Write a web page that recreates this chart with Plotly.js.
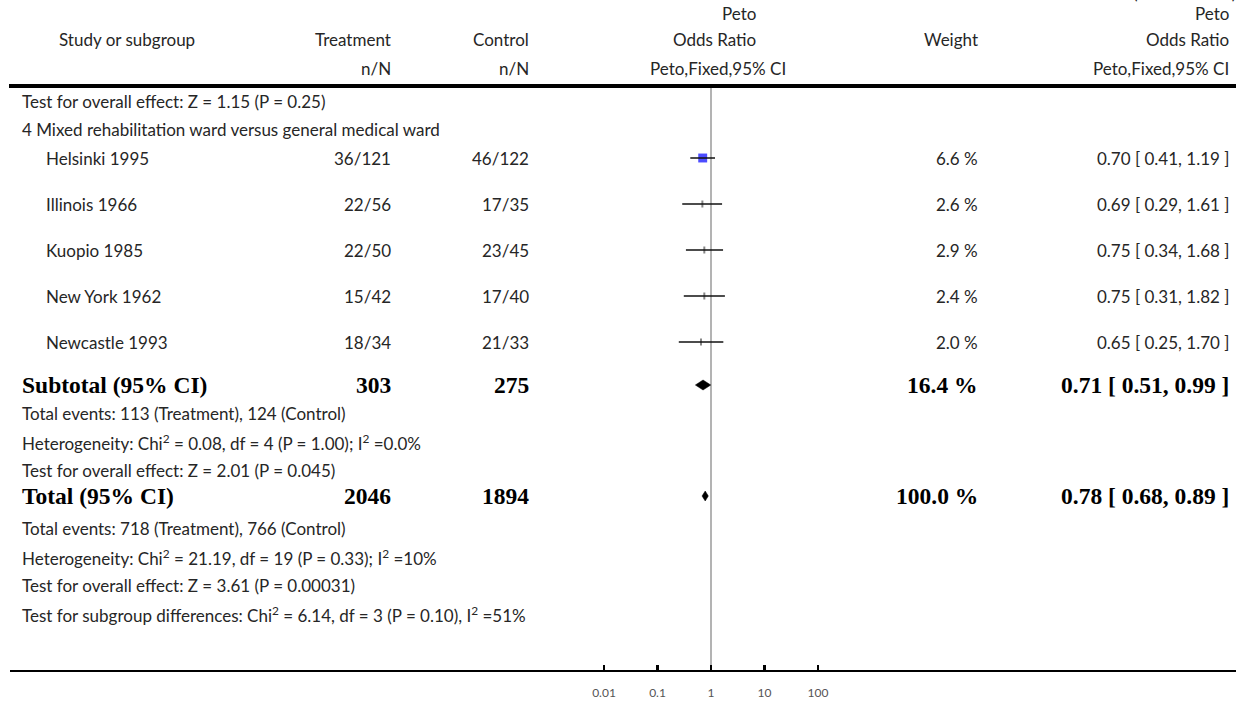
<!DOCTYPE html>
<html>
<head>
<meta charset="utf-8">
<script src="https://cdn.plot.ly/plotly-3.0.1.min.js"></script>
<style>html,body{margin:0;padding:0;background:#fff;}#chart{width:1236px;height:707px;}</style>
</head>
<body>
<div id="chart"></div>
<script>
// ---------------- DATA ----------------
const studies   = ['Helsinki 1995', 'Illinois 1966', 'Kuopio 1985', 'New York 1962', 'Newcastle 1993'];
const treatment = ['36/121', '22/56', '22/50', '15/42', '18/34'];
const control   = ['46/122', '17/35', '23/45', '17/40', '21/33'];
const weights   = [6.6, 2.6, 2.9, 2.4, 2.0];
const oddsRatio = [0.70, 0.69, 0.75, 0.75, 0.65];
const ciLow     = [0.41, 0.29, 0.34, 0.31, 0.25];
const ciHigh    = [1.19, 1.61, 1.68, 1.82, 1.70];

const summaryLabels = ['Subtotal (95% CI)', 'Total (95% CI)'];
const summaryTreatN = [303, 2046];
const summaryCtrlN  = [275, 1894];
const summaryWeight = [16.4, 100.0];
const summaryOR     = [0.71, 0.78];
const summaryLow    = [0.51, 0.68];
const summaryHigh   = [0.99, 0.89];

const prevGroupTest = 'Test for overall effect: Z = 1.15 (P = 0.25)';
const groupHeading  = '4 Mixed rehabilitation ward versus general medical ward';
const subtotalNotes = [
  'Total events: 113 (Treatment), 124 (Control)',
  'Heterogeneity: Chi<sup>2</sup> = 0.08, df = 4 (P = 1.00); I<sup>2</sup> =0.0%',
  'Test for overall effect: Z = 2.01 (P = 0.045)'
];
const totalNotes = [
  'Total events: 718 (Treatment), 766 (Control)',
  'Heterogeneity: Chi<sup>2</sup> = 21.19, df = 19 (P = 0.33); I<sup>2</sup> =10%',
  'Test for overall effect: Z = 3.61 (P = 0.00031)',
  'Test for subgroup differences: Chi<sup>2</sup> = 6.14, df = 3 (P = 0.10), I<sup>2</sup> =51%'
];
const tickValues = [0.01, 0.1, 1, 10, 100];
const tickLabels = ['0.01', '0.1', '1', '10', '100'];

// ---------------- LAYOUT (pixel rows) ----------------
const W = 1236, H = 707;
const AXIS_Y = 672;
const HEADER_LINE_Y = 86;
const yTest0 = 101, yHeading = 129;
const yStudies = [158, 204, 250, 296, 342];
const ySubtotal = 385;
const ySubNotes = [413, 442, 470];
const yTotal = 496;
const yTotNotes = [528, 557, 585, 614];

const COL = {left: 20, indent: 44, treat: 393, ctrl: 531, forestTop: 758, forestSub: 788, weight: 980, or: 1231};
const TXT = {family: 'Lato, "Open Sans", sans-serif', size: 17, color: '#262626'};
const BOLD = {family: '"Liberation Serif", "DejaVu Serif", serif', size: 23.5, color: '#000', weight: 'bold'};

const ann = [];
function txt(text, px, y, anchor, font) {
  ann.push({text: text, x: px / W, xref: 'paper', y: y, yref: 'y', xanchor: anchor, yanchor: 'middle',
    showarrow: false, font: font || TXT});
}
function fmtCI(o, l, h) { return o.toFixed(2) + ' [ ' + l.toFixed(2) + ', ' + h.toFixed(2) + ' ]'; }

// header (continuation note, cut by the top edge)
ann.push({text: '(Continued ...)', x: 1238 / W, xref: 'paper', y: 1 - 5 / AXIS_Y, yref: 'paper',
  xanchor: 'right', yanchor: 'bottom', showarrow: false, font: TXT});
txt('Study or subgroup', 127, 39, 'center');
txt('Treatment', COL.treat, 39, 'right');
txt('n/N', COL.treat, 68, 'right');
txt('Control', COL.ctrl, 39, 'right');
txt('n/N', COL.ctrl, 68, 'right');
txt('Peto', COL.forestTop, 13, 'right');
txt('Odds Ratio', COL.forestTop, 39, 'right');
txt('Peto,Fixed,95% CI', COL.forestSub, 68, 'right');
txt('Weight', COL.weight, 39, 'right');
txt('Peto', COL.or, 13, 'right');
txt('Odds Ratio', COL.or, 39, 'right');
txt('Peto,Fixed,95% CI', COL.or, 68, 'right');

txt(prevGroupTest, COL.left, yTest0, 'left');
txt(groupHeading, COL.left, yHeading, 'left');
studies.forEach((s, i) => {
  const y = yStudies[i];
  txt(s, COL.indent, y, 'left');
  txt(treatment[i], COL.treat, y, 'right');
  txt(control[i], COL.ctrl, y, 'right');
  txt(weights[i].toFixed(1) + ' %', COL.weight, y, 'right');
  txt(fmtCI(oddsRatio[i], ciLow[i], ciHigh[i]), COL.or, y, 'right');
});
const ySummary = [ySubtotal, yTotal];
summaryLabels.forEach((s, i) => {
  const y = ySummary[i];
  txt(s, COL.left, y, 'left', BOLD);
  txt(String(summaryTreatN[i]), COL.treat, y, 'right', BOLD);
  txt(String(summaryCtrlN[i]), COL.ctrl, y, 'right', BOLD);
  txt(summaryWeight[i].toFixed(1) + ' %', COL.weight, y, 'right', BOLD);
  txt(fmtCI(summaryOR[i], summaryLow[i], summaryHigh[i]), COL.or, y, 'right', BOLD);
});
subtotalNotes.forEach((t, i) => txt(t, COL.left, ySubNotes[i], 'left'));
totalNotes.forEach((t, i) => txt(t, COL.left, yTotNotes[i], 'left'));

// ---------------- TRACES ----------------
const traces = [];
const big = weights.map(w => w >= 5);
// study boxes (small weights render as tiny dark ticks)
traces.push({
  type: 'scatter', mode: 'markers', x: oddsRatio, y: yStudies, cliponaxis: false, hoverinfo: 'skip',
  marker: {symbol: big.map(b => b ? 'square' : 'line-ns'),
           size: weights.map((w, i) => big[i] ? w * 1.35 : 5),
           color: big.map(b => b ? '#0000ff' : '#555'),
           line: {width: big.map(b => b ? 0 : 2), color: '#555'}}
});
// CI lines
const cx = [], cy = [];
studies.forEach((s, i) => { cx.push(ciLow[i], ciHigh[i], null); cy.push(yStudies[i], yStudies[i], null); });
traces.push({type: 'scatter', mode: 'lines', x: cx, y: cy, hoverinfo: 'skip', cliponaxis: false,
  line: {color: '#111', width: 1.5}});
// diamonds
const DH = 5;
summaryLabels.forEach((s, i) => {
  const y = ySummary[i];
  traces.push({type: 'scatter', mode: 'lines', fill: 'toself', fillcolor: '#000', hoverinfo: 'skip',
    x: [summaryLow[i], summaryOR[i], summaryHigh[i], summaryOR[i], summaryLow[i]],
    y: [y, y - DH, y, y + DH, y], line: {color: '#000', width: 0.5}});
});

const shapes = [
  {type: 'line', xref: 'paper', yref: 'y', x0: 9 / W, x1: 1, y0: HEADER_LINE_Y, y1: HEADER_LINE_Y, line: {color: '#000', width: 4}},
  {type: 'line', xref: 'paper', yref: 'y', x0: 10 / W, x1: 1, y0: AXIS_Y, y1: AXIS_Y, line: {color: '#000', width: 4}},
  {type: 'line', xref: 'x', yref: 'y', x0: 1, x1: 1, y0: HEADER_LINE_Y, y1: AXIS_Y, line: {color: '#808080', width: 1.2}, layer: 'below'}
];

const pxPerDecade = 53.5, oneAt = 711;
const layout = {
  width: W, height: H, margin: {l: 0, r: 0, t: 0, b: H - AXIS_Y, pad: 0},
  paper_bgcolor: '#fff', plot_bgcolor: '#fff', showlegend: false,
  xaxis: {type: 'log', range: [-oneAt / pxPerDecade, (W - oneAt) / pxPerDecade], domain: [0, 1],
    tickvals: tickValues, ticktext: tickLabels, ticks: 'inside', ticklen: 7, tickwidth: 2.5, tickcolor: '#000',
    showgrid: false, zeroline: false, showline: false, ticklabelstandoff: 12,
    tickfont: {family: 'Lato, sans-serif', size: 12, color: '#555'}, fixedrange: true},
  yaxis: {range: [AXIS_Y, 0], visible: false, showgrid: false, zeroline: false, fixedrange: true},
  annotations: ann, shapes: shapes
};
Plotly.newPlot('chart', traces, layout, {staticPlot: true});
</script>
</body>
</html>
